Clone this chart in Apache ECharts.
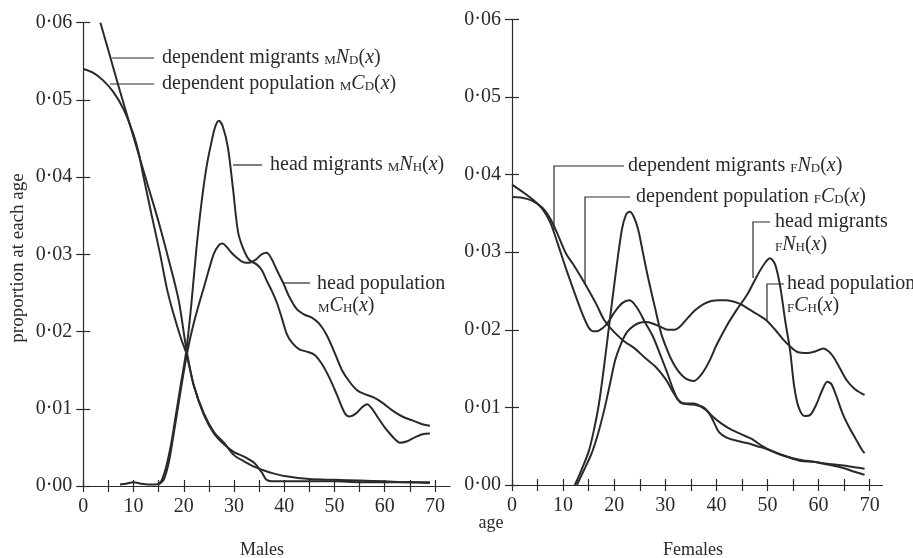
<!DOCTYPE html>
<html><head><meta charset="utf-8">
<script src="https://cdn.jsdelivr.net/npm/echarts@6/dist/echarts.min.js"></script>
<style>html,body{margin:0;padding:0;background:#fff}#c{width:913px;height:558px}</style>
</head><body><div id="c"></div>
<script>
// ---- tick values ----
const xTicks = [0,5,10,15,20,25,30,35,40,45,50,55,60,65,70];
const xLabels = [0,10,20,30,40,50,60,70];
const yTicks = [0,0.01,0.02,0.03,0.04,0.05,0.06];

// ---- Males ----
const mDepMigAge = [3.4,5,7,9,11,13,15,17,19,20.5,22,24,26,28,30,32,34,35.5,36.5,38,42,46,50,55,60,65,69];
const mDepMigVal = [0.0600,0.0564,0.0518,0.0474,0.0430,0.0386,0.0342,0.0293,0.0240,0.0178,0.0130,0.0092,0.0068,0.0054,0.0044,0.0038,0.0030,0.0018,0.0008,0.0006,0.0006,0.0006,0.0006,0.0005,0.0005,0.0005,0.0004];

const mDepPopAge = [0,2,4,6,8,10,11,12,13.6,15.3,16.7,18,19.5,20.5,22,24,26,28,30,32,34,36,38,40,45,50,55,60,65,69];
const mDepPopVal = [0.0540,0.0535,0.0525,0.0510,0.0488,0.0455,0.0432,0.0400,0.0351,0.0300,0.0254,0.0222,0.0190,0.0172,0.0130,0.0094,0.0070,0.0056,0.0040,0.0032,0.0025,0.0020,0.0016,0.0013,0.0009,0.0008,0.0007,0.0006,0.0005,0.0005];

const mHeadMigAge = [7.3,8.5,10,11.5,13,14.5,15.5,16.5,17.5,18.5,19.5,20.5,21.5,22.5,23.5,24.5,25.5,26.3,27,27.8,28.8,29.8,30.8,31.8,33,34.5,35.5,36.5,37.5,38.5,39.5,40.5,41.5,43,44.5,46,47.5,49,50.5,52,53,54.3,55.5,56.5,57.5,58.5,60,61,62,63,64.5,66,67.5,69];
const mHeadMigVal = [0.0002,0.0003,0.0005,0.0003,0.0002,0.0002,0.0006,0.0025,0.0055,0.0095,0.0135,0.0175,0.0235,0.0306,0.0365,0.0412,0.0445,0.0466,0.0473,0.0465,0.0438,0.0385,0.0329,0.0308,0.0293,0.0287,0.0280,0.0266,0.0253,0.0238,0.0218,0.0197,0.0186,0.0177,0.0174,0.0170,0.0158,0.0140,0.0118,0.0095,0.0090,0.0094,0.0102,0.0106,0.0100,0.0090,0.0076,0.0068,0.0061,0.0056,0.0058,0.0063,0.0067,0.0068];

const mHeadPopAge = [15,16,17,18,19,20,21,22,23,24,25,26,27,27.7,28.5,29.5,30.5,31.5,32.5,33.5,34.5,35.5,36.5,37.5,38.5,39.8,41,42.5,44,45.5,47,48.5,50,51.5,53,54.5,56,57.7,59.5,61.5,63.5,65.5,67.5,69];
const mHeadPopVal = [0.0002,0.0008,0.0030,0.0068,0.0108,0.0148,0.0183,0.0211,0.0235,0.0257,0.0280,0.0301,0.0312,0.0314,0.0310,0.0302,0.0296,0.0291,0.0289,0.0290,0.0294,0.0300,0.0302,0.0294,0.0280,0.0263,0.0245,0.0229,0.0222,0.0218,0.0210,0.0195,0.0173,0.0150,0.0135,0.0124,0.0119,0.0115,0.0108,0.0098,0.0090,0.0085,0.0080,0.0078];

// ---- Females ----
const fDepMigAge = [0,2,4,6,7.5,9,10.5,12,13.5,15,16,17,18.5,20,21.5,23,24.5,26,27.6,29,30.3,31.5,32.5,34,35.5,37,38.5,39.5,40.5,42,44,46,48,50,52,54,56.5,59,62,64.8,67,69];
const fDepMigVal = [0.0387,0.0378,0.0368,0.0355,0.0338,0.0310,0.0280,0.0252,0.0225,0.0203,0.0198,0.0199,0.0207,0.0222,0.0234,0.0238,0.0228,0.0210,0.0191,0.0168,0.0146,0.0124,0.0110,0.0105,0.0105,0.0101,0.0093,0.0081,0.0068,0.0061,0.0057,0.0054,0.0050,0.0046,0.0041,0.0036,0.0031,0.0030,0.0026,0.0022,0.0017,0.0013];

const fDepPopAge = [0,2,4,6,7.5,9,10.5,12,13.5,15,16.5,18,20,22,24,26,28,30,31.5,33,34.5,36,37.5,39,41,43,45,47,49,51,53,56,59,62,65,67,69];
const fDepPopVal = [0.0371,0.0370,0.0366,0.0357,0.0343,0.0322,0.0299,0.0284,0.0268,0.0251,0.0233,0.0213,0.0197,0.0185,0.0176,0.0164,0.0153,0.0137,0.0120,0.0106,0.0104,0.0103,0.0100,0.0090,0.0079,0.0071,0.0065,0.0059,0.0050,0.0043,0.0038,0.0033,0.0030,0.0027,0.0025,0.0023,0.0021];

const fHeadMigAge = [12.3,13.5,15,16,17,18,19,20.2,21.5,22.3,23,23.8,24.7,25.6,26.6,28,29.2,30.3,31.3,32.5,34,35.5,37,38.5,40,42,44,46,48,49.5,50.5,51.5,52.5,53.5,54.4,55.2,56,57.2,58.3,59.5,60.7,61.7,62.5,63.5,64.7,66,67.2,68.5,69];
const fHeadMigVal = [0.0000,0.0018,0.0043,0.0070,0.0104,0.0152,0.0205,0.0268,0.0329,0.0348,0.0352,0.0346,0.0329,0.0300,0.0268,0.0228,0.0195,0.0175,0.0160,0.0147,0.0137,0.0134,0.0142,0.0158,0.0180,0.0205,0.0226,0.0245,0.0270,0.0286,0.0292,0.0284,0.0255,0.0210,0.0174,0.0128,0.0102,0.0089,0.0090,0.0103,0.0122,0.0133,0.0130,0.0114,0.0092,0.0074,0.0060,0.0045,0.0041];

const fHeadPopAge = [12.7,14,15.6,17,18.2,19.2,20.2,21.4,22.5,23.8,25,26.3,27.5,29,30.5,31.8,33,34.5,36,37.5,39,40.5,42,43.5,45,46.5,48,49.8,51.5,53,54.5,56,57.7,59.3,60.9,62,63,64.2,65.5,67,68.4,69];
const fHeadPopVal = [0.0000,0.0018,0.0041,0.0070,0.0101,0.0131,0.0161,0.0183,0.0197,0.0205,0.0209,0.0210,0.0208,0.0204,0.0200,0.0200,0.0205,0.0216,0.0226,0.0233,0.0237,0.0238,0.0238,0.0236,0.0232,0.0226,0.0220,0.0212,0.0200,0.0188,0.0178,0.0171,0.0170,0.0172,0.0176,0.0172,0.0164,0.0150,0.0135,0.0124,0.0118,0.0116];

// ---- build ----
const FONT = 'Liberation Serif, Times New Roman, serif';
const INK = '#2a2a2a';
const zip = (a, v) => a.map((x, i) => [x, v[i]]);
const fmtY = v => v.toFixed(2).replace('.', '\u00b7');

function axesFor(g, xmax) {
  const axLine = {show: true, onZero: false, lineStyle: {color: INK, width: 1.2}};
  const tickStyle = {color: INK, width: 1.2};
  return {
    x: [
      {gridIndex: g, type: 'value', min: 0, max: xmax, position: 'bottom', axisLine: axLine,
       axisTick: {show: true, inside: false, length: 6, customValues: xTicks, lineStyle: tickStyle},
       axisLabel: {customValues: xLabels, margin: 11, color: INK, fontSize: 20, fontFamily: FONT},
       splitLine: {show: false}},
      {gridIndex: g, type: 'value', min: 0, max: xmax, position: 'bottom', axisLine: {show: false},
       axisTick: {show: true, inside: true, length: 6, customValues: xTicks, lineStyle: tickStyle},
       axisLabel: {show: false}, splitLine: {show: false}}
    ],
    y: [
      {gridIndex: g, type: 'value', min: 0, max: 0.06, interval: 0.01, position: 'left', axisLine: axLine,
       axisTick: {show: true, inside: false, length: 7, customValues: yTicks, lineStyle: tickStyle},
       axisLabel: {customValues: yTicks, margin: 11, formatter: fmtY, color: INK, fontSize: 20, fontFamily: FONT},
       splitLine: {show: false}},
      {gridIndex: g, type: 'value', min: 0, max: 0.06, interval: 0.01, position: 'left', axisLine: {show: false},
       axisTick: {show: true, inside: true, length: 7, customValues: yTicks, lineStyle: tickStyle},
       axisLabel: {show: false}, splitLine: {show: false}}
    ]
  };
}
const A0 = axesFor(0, 73), A1 = axesFor(1, 72.5);

function line(name, ages, vals, xi, yi) {
  return {name, type: 'line', xAxisIndex: xi, yAxisIndex: yi, data: zip(ages, vals),
    showSymbol: false, smooth: 0.3, silent: true,
    lineStyle: {color: INK, width: 2}};
}

const rich = {
  s: {fontSize: 13, verticalAlign: 'bottom', fontFamily: FONT, fill: INK, padding: [0, 0, 1, 0]},
  i: {fontSize: 20, fontStyle: 'italic', fontFamily: FONT, fill: INK}
};
function txt(x, y, text) {
  return {type: 'text', x, y, silent: true,
    style: {text, rich, fontSize: 20, fontFamily: FONT, fill: INK, verticalAlign: 'middle', align: 'left'}};
}
function pl(points) {
  return {type: 'polyline', silent: true, shape: {points}, style: {stroke: INK, lineWidth: 1.2, fill: null}};
}

const graphic = [
  // males annotations
  pl([[112, 58], [154, 58]]), txt(162, 58, 'dependent migrants {s|M}{i|N}{s|D}({i|x})'),
  pl([[110, 84], [154, 84]]), txt(162, 84, 'dependent population {s|M}{i|C}{s|D}({i|x})'),
  pl([[233, 165], [262, 165]]), txt(270, 165, 'head migrants {s|M}{i|N}{s|H}({i|x})'),
  pl([[284, 283], [310, 283]]), txt(317, 284, 'head population'), txt(318, 306, '{s|M}{i|C}{s|H}({i|x})'),
  // females annotations
  pl([[554, 230], [554, 166], [624, 166]]), txt(628, 166, 'dependent migrants {s|F}{i|N}{s|D}({i|x})'),
  pl([[585, 283], [585, 197], [630, 197]]), txt(636, 197, 'dependent population {s|F}{i|C}{s|D}({i|x})'),
  pl([[753, 278], [753, 222], [770, 222]]), txt(775, 222, 'head migrants'), txt(775, 245, '{s|F}{i|N}{s|H}({i|x})'),
  pl([[767, 320], [767, 284], [784, 284]]), txt(787, 284, 'head population'), txt(787, 306, '{s|F}{i|C}{s|H}({i|x})'),
  // axis titles
  {type: 'text', x: 18, y: 258, rotation: Math.PI / 2, silent: true,
   style: {text: 'proportion at each age', fontSize: 19, fontFamily: FONT, fill: INK, align: 'center', verticalAlign: 'middle'}},
  {type: 'text', x: 491, y: 523, silent: true,
   style: {text: 'age', fontSize: 18, fontFamily: FONT, fill: INK, align: 'center', verticalAlign: 'middle'}},
  {type: 'text', x: 262, y: 550, silent: true,
   style: {text: 'Males', fontSize: 18, fontFamily: FONT, fill: INK, align: 'center', verticalAlign: 'middle'}},
  {type: 'text', x: 693, y: 550, silent: true,
   style: {text: 'Females', fontSize: 18, fontFamily: FONT, fill: INK, align: 'center', verticalAlign: 'middle'}}
];

const chart = echarts.init(document.getElementById('c'), null, {renderer: 'canvas'});
chart.setOption({
  animation: false,
  backgroundColor: '#ffffff',
  grid: [
    {left: 83.3, top: 22.7, width: 366.7, height: 463.3},
    {left: 512, top: 19.3, width: 370.5, height: 465.7}
  ],
  xAxis: [...A0.x, ...A1.x],
  yAxis: [...A0.y, ...A1.y],
  series: [
    line('male dependent migrants', mDepMigAge, mDepMigVal, 0, 0),
    line('male dependent population', mDepPopAge, mDepPopVal, 0, 0),
    line('male head migrants', mHeadMigAge, mHeadMigVal, 0, 0),
    line('male head population', mHeadPopAge, mHeadPopVal, 0, 0),
    line('female dependent migrants', fDepMigAge, fDepMigVal, 2, 2),
    line('female dependent population', fDepPopAge, fDepPopVal, 2, 2),
    line('female head migrants', fHeadMigAge, fHeadMigVal, 2, 2),
    line('female head population', fHeadPopAge, fHeadPopVal, 2, 2)
  ],
  graphic
});
</script></body></html>
